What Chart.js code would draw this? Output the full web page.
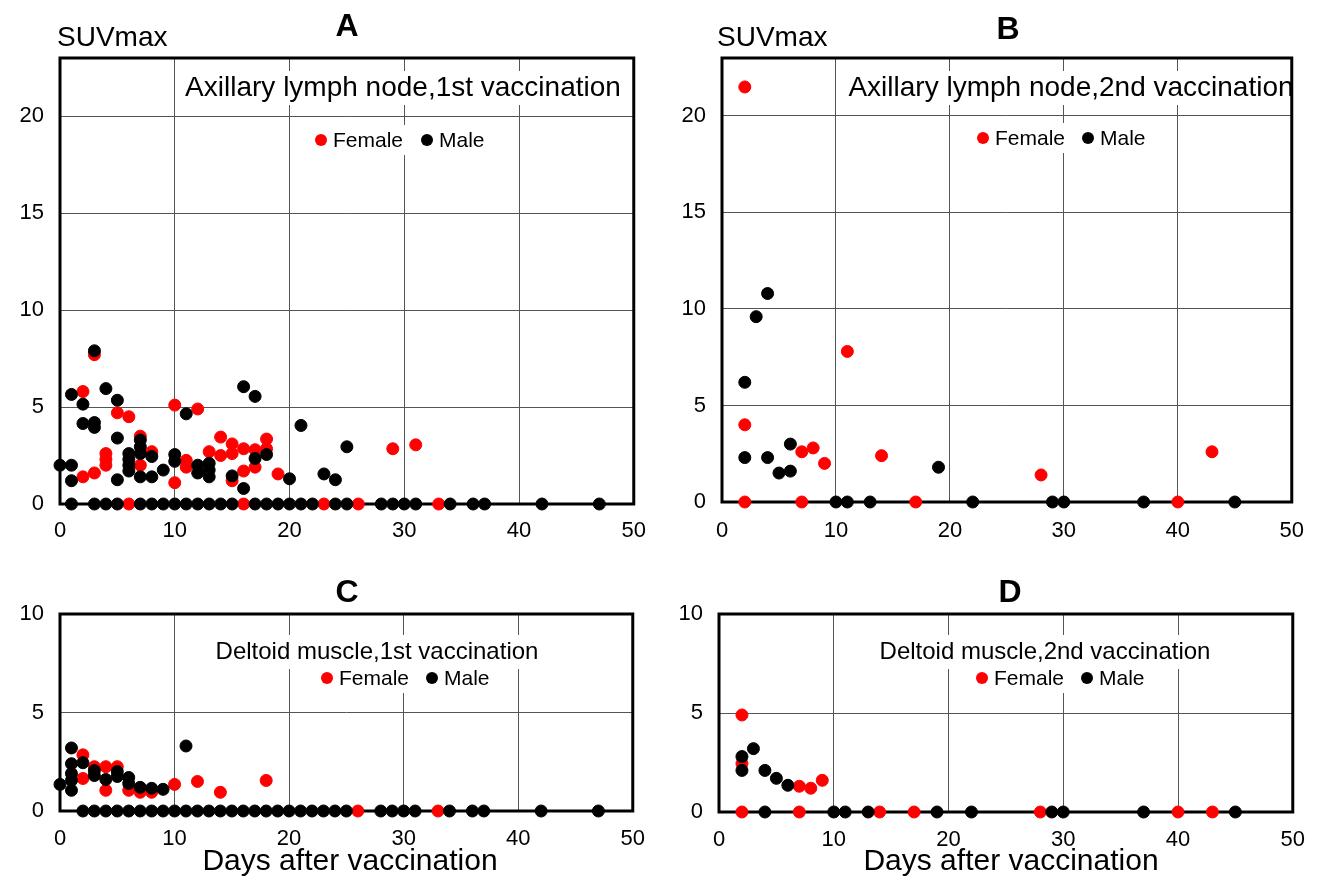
<!DOCTYPE html>
<html>
<head>
<meta charset="utf-8">
<script src="https://cdn.jsdelivr.net/npm/chart.js@4.4.1/dist/chart.umd.min.js"></script>
<style>
  body { margin: 0; background: #fff; }
  #wrap { position: relative; width: 1328px; height: 880px; }
  canvas { position: absolute; }
</style>
</head>
<body>
<div id="wrap">
  <canvas id="chart-a" width="660" height="560" style="left:0;top:0"></canvas>
  <canvas id="chart-b" width="660" height="560" style="left:660px;top:0"></canvas>
  <canvas id="chart-c" width="660" height="320" style="left:0;top:560px"></canvas>
  <canvas id="chart-d" width="660" height="320" style="left:660px;top:560px"></canvas>
</div>
<script>
var FONT = '"Liberation Sans", Arial, sans-serif';

//A - axillary lymph node, 1st vaccination
var aFemaleDays = [2, 2, 3, 3, 4, 4, 4, 5, 6, 6, 7, 7, 8, 10, 10, 11, 11, 12, 13, 14, 14,
  15, 15, 15, 16, 16, 16, 17, 17, 18, 18, 19, 23, 26, 29, 31, 33];
var aFemaleSuv = [5.8, 1.4, 7.7, 1.6, 2.6, 2.3, 2.0, 4.7, 4.5, 0, 3.5, 2.0, 2.7, 5.1, 1.1, 2.25, 1.9, 4.9, 2.7, 3.45, 2.5,
  3.1, 2.6, 1.2, 2.85, 1.7, 0, 2.8, 1.9, 3.35, 2.85, 1.55, 0, 0, 2.85, 3.05, 0];
var aMaleDays = [0, 1, 1, 1, 1, 2, 2, 3, 3, 3, 3, 4, 4, 5, 5, 5, 5, 6, 6, 6, 6,
  7, 7, 7, 7, 7, 8, 8, 8, 9, 9, 10, 10, 10, 11, 11, 12, 12, 12, 13, 13, 13, 13,
  14, 15, 15, 16, 16, 17, 17, 17, 18, 18, 19, 20, 20, 21, 21, 22, 23, 24, 24, 25, 25,
  28, 29, 30, 31, 34, 36, 37, 42, 47];
var aMaleSuv = [2.0, 5.65, 2.0, 1.2, 0, 5.15, 4.15, 7.9, 4.2, 3.95, 0, 5.95, 0, 5.35, 3.4, 1.25, 0, 2.6, 2.3, 2.0, 1.7,
  3.3, 2.95, 2.6, 1.4, 0, 2.45, 1.4, 0, 1.75, 0, 2.55, 2.2, 0, 4.65, 0, 2.0, 1.6, 0, 2.1, 1.75, 1.4, 0,
  0, 1.45, 0, 6.05, 0.8, 5.55, 2.35, 0, 2.55, 0, 0, 1.3, 0, 4.05, 0, 0, 1.55, 1.25, 0, 2.95, 0,
  0, 0, 0, 0, 0, 0, 0, 0, 0];

//B - axillary lymph node, 2nd vaccination
var bFemaleDays = [2, 2, 2, 7, 7, 8, 9, 11, 14, 17, 28, 40, 43];
var bFemaleSuv = [21.5, 4.0, 0, 2.6, 0, 2.8, 2.0, 7.8, 2.4, 0, 1.4, 0, 2.6];
var bMaleDays = [2, 2, 3, 4, 4, 5, 6, 6, 10, 11, 13, 19, 22, 29, 30, 37, 45];
var bMaleSuv = [6.2, 2.3, 9.6, 10.8, 2.3, 1.5, 3.0, 1.6, 0, 0, 0, 1.8, 0, 0, 0, 0, 0];

//C - deltoid muscle, 1st vaccination
var cFemaleDays = [2, 2, 3, 4, 4, 5, 6, 7, 8, 10, 12, 14, 18, 26, 33];
var cFemaleSuv = [2.85, 1.65, 2.25, 2.25, 1.05, 2.25, 1.05, 0.95, 0.95, 1.35, 1.5, 0.95, 1.55, 0, 0];
var cMaleDays = [0, 1, 1, 1, 1, 1, 2, 2, 3, 3, 3, 4, 4, 5, 5, 5, 6, 6, 6, 7, 7, 8, 8, 9, 9, 10, 11, 11,
  12, 13, 14, 15, 16, 17, 18, 19, 20, 21, 22, 23, 24, 25, 28, 29, 30, 31, 34, 36, 37, 42, 47];
var cMaleSuv = [1.35, 3.2, 2.4, 1.9, 1.55, 1.05, 2.45, 0, 2.05, 1.8, 0, 1.6, 0, 2.0, 1.75, 0, 1.7, 1.4, 0, 1.2, 0, 1.15, 0, 1.1, 0, 0, 3.3, 0,
  0, 0, 0, 0, 0, 0, 0, 0, 0, 0, 0, 0, 0, 0, 0, 0, 0, 0, 0, 0, 0, 0, 0];

//D - deltoid muscle, 2nd vaccination
var dFemaleDays = [2, 2, 2, 7, 7, 8, 9, 14, 17, 28, 40, 43];
var dFemaleSuv = [4.9, 2.45, 0, 1.3, 0, 1.2, 1.6, 0, 0, 0, 0, 0];
var dMaleDays = [2, 2, 3, 4, 4, 5, 6, 10, 11, 13, 19, 22, 29, 30, 37, 45];
var dMaleSuv = [2.8, 2.1, 3.2, 2.1, 0, 1.7, 1.35, 0, 0, 0, 0, 0, 0, 0, 0, 0];

var xTicks = [0, 10, 20, 30, 40, 50];
var legendLabels = ["Female", "Male"];
var seriesColors = ["#ff0000", "#000000"];

function toPoints(days, values) {
  return days.map(function (d, i) { return { x: d, y: values[i] }; });
}

// boxed title, legend, frame and loose labels
var decor = {
  id: "decor",
  beforeDatasetsDraw: function (chart, args, o) {
    var ctx = chart.ctx;
    var a = chart.chartArea;
    ctx.save();

    // title with white box
    ctx.font = o.titleSize + "px " + FONT;
    ctx.textBaseline = "middle";
    ctx.textAlign = "center";
    var w = ctx.measureText(o.title).width;
    ctx.fillStyle = "#fff";
    ctx.fillRect(o.titleX - w / 2 - 6, o.titleY - 17, w + 12, 34);
    ctx.fillStyle = "#000";
    ctx.fillText(o.title, o.titleX, o.titleY);

    // legend
    ctx.font = "21px " + FONT;
    ctx.textAlign = "left";
    var endX = o.legendX[1] + 12 + ctx.measureText(legendLabels[1]).width;
    ctx.fillStyle = "#fff";
    ctx.fillRect(o.legendX[0] - 12, o.legendY - 15, endX - o.legendX[0] + 20, 30);
    for (var i = 0; i < 2; i++) {
      ctx.fillStyle = seriesColors[i];
      ctx.beginPath();
      ctx.arc(o.legendX[i], o.legendY, 6, 0, Math.PI * 2);
      ctx.fill();
      ctx.fillStyle = "#000";
      ctx.fillText(legendLabels[i], o.legendX[i] + 12, o.legendY + 1);
    }

    // frame
    ctx.strokeStyle = "#000";
    ctx.lineWidth = 3;
    ctx.strokeRect(a.left, a.top, a.right - a.left, a.bottom - a.top);
    ctx.restore();
  },
  afterDraw: function (chart, args, o) {
    var ctx = chart.ctx;
    ctx.save();
    ctx.fillStyle = "#000";
    ctx.textBaseline = "middle";
    ctx.textAlign = "center";
    ctx.font = "bold 32px " + FONT;
    ctx.fillText(o.letter, o.letterX, o.letterY);
    if (o.yLabel) {
      ctx.font = "28px " + FONT;
      ctx.textAlign = "left";
      ctx.fillText(o.yLabel, o.yLabelX, o.yLabelY);
    }
    if (o.xLabel) {
      ctx.font = "30px " + FONT;
      ctx.textAlign = "center";
      ctx.fillText(o.xLabel, o.xLabelX, o.xLabelY);
    }
    ctx.restore();
  }
};

function makePanel(id, female, male, yMax, box, deco) {
  var ctx = document.getElementById(id).getContext("2d");
  return new Chart(ctx, {
    type: "scatter",
    data: {
      datasets: [
        {
          label: legendLabels[0],
          data: female,
          backgroundColor: seriesColors[0],
          borderColor: seriesColors[0],
          pointRadius: 6,
          pointHoverRadius: 6,
          clip: false,
          order: 1,
        },
        {
          label: legendLabels[1],
          data: male,
          backgroundColor: seriesColors[1],
          borderColor: seriesColors[1],
          pointRadius: 6,
          pointHoverRadius: 6,
          clip: false,
          order: 0,
        },
      ],
    },
    options: {
      responsive: false,
      animation: false,
      devicePixelRatio: 1,
      layout: { padding: { top: box.top, right: box.right, left: 0, bottom: 0 } },
      plugins: {
        legend: { display: false },
        tooltip: { enabled: false },
        decor: deco,
      },
      scales: {
        x: {
          type: "linear",
          min: 0,
          max: 50,
          afterBuildTicks: function (s) {
            s.ticks = xTicks.map(function (v) { return { value: v }; });
          },
          afterFit: function (s) { s.height = box.xHeight; },
          ticks: { color: "#000", font: { size: 22, family: FONT }, padding: box.xPad, maxRotation: 0 },
          grid: { color: "#555", lineWidth: 1, drawTicks: false },
          border: { display: false },
        },
        y: {
          min: 0,
          max: yMax,
          afterBuildTicks: function (s) {
            s.ticks = s.ticks.filter(function (t) { return t.value % 5 === 0; });
          },
          afterFit: function (s) { s.width = box.yWidth; },
          ticks: { stepSize: 5, color: "#000", font: { size: 22, family: FONT }, padding: 16 },
          grid: { color: "#555", lineWidth: 1, drawTicks: false },
          border: { display: false },
        },
      },
    },
    plugins: [decor],
  });
}

makePanel("chart-a", toPoints(aFemaleDays, aFemaleSuv), toPoints(aMaleDays, aMaleSuv), 23,
  { top: 58, right: 20, xHeight: 56, yWidth: 60, xPad: 14 },
  { letter: "A", letterX: 347, letterY: 27, yLabel: "SUVmax", yLabelX: 57, yLabelY: 38,
    title: "Axillary lymph node,1st vaccination", titleSize: 28, titleX: 403, titleY: 88,
    legendX: [321, 427], legendY: 140 });

makePanel("chart-b", toPoints(bFemaleDays, bFemaleSuv), toPoints(bMaleDays, bMaleSuv), 23,
  { top: 58, right: 17, xHeight: 58, yWidth: 62, xPad: 16 },
  { letter: "B", letterX: 348, letterY: 30, yLabel: "SUVmax", yLabelX: 57, yLabelY: 38,
    title: "Axillary lymph node,2nd vaccination", titleSize: 28, titleX: 411, titleY: 88,
    legendX: [323, 428], legendY: 138 });

makePanel("chart-c", toPoints(cFemaleDays, cFemaleSuv), toPoints(cMaleDays, cMaleSuv), 10,
  { top: 54, right: 20, xHeight: 69, yWidth: 60, xPad: 15 },
  { letter: "C", letterX: 347, letterY: 33,
    title: "Deltoid muscle,1st vaccination", titleSize: 24, titleX: 377, titleY: 92,
    legendX: [327, 432], legendY: 118,
    xLabel: "Days after vaccination", xLabelX: 350, xLabelY: 302 });

makePanel("chart-d", toPoints(dFemaleDays, dFemaleSuv), toPoints(dMaleDays, dMaleSuv), 10,
  { top: 54, right: 17, xHeight: 68, yWidth: 59, xPad: 15 },
  { letter: "D", letterX: 350, letterY: 33,
    title: "Deltoid muscle,2nd vaccination", titleSize: 24, titleX: 1045 - 660, titleY: 92,
    legendX: [322, 427], legendY: 118,
    xLabel: "Days after vaccination", xLabelX: 351, xLabelY: 302 });
</script>
</body>
</html>
